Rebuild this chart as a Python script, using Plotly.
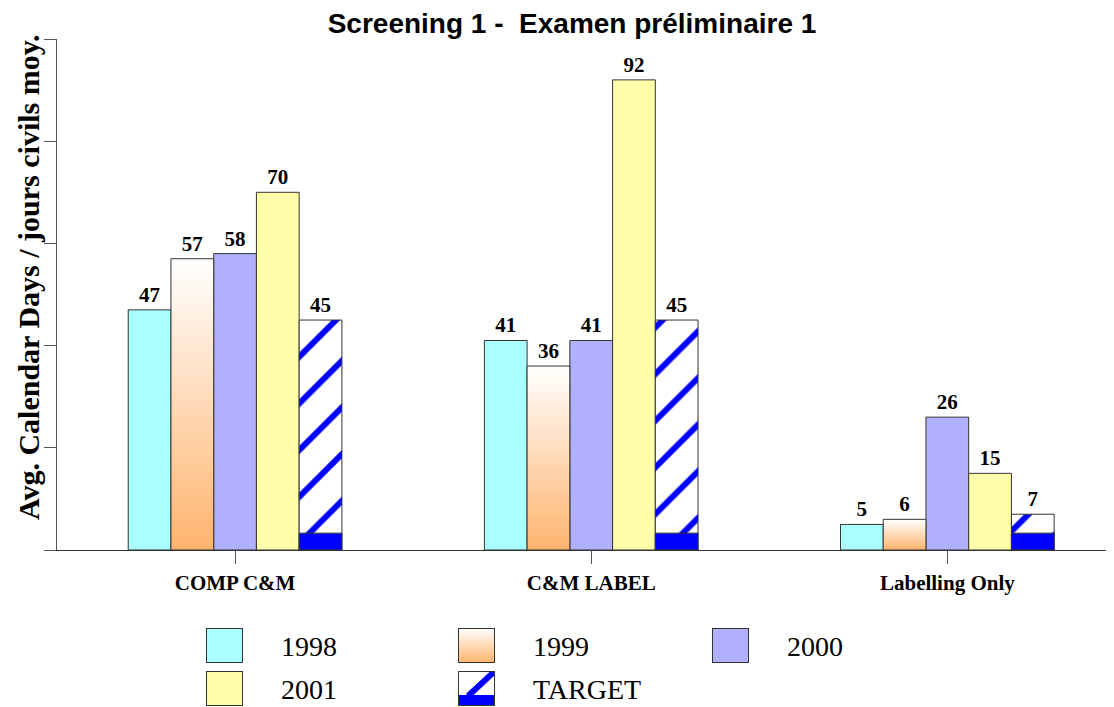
import base64

import plotly.graph_objects as go

# Data
categories = ["COMP C&M", "C&M LABEL", "Labelling Only"]
series = ["1998", "1999", "2000", "2001", "TARGET"]
v1998 = [47, 41, 5]
v1999 = [57, 36, 6]
v2000 = [58, 41, 26]
v2001 = [70, 92, 15]
target = [45, 45, 7]
y_ticks = [0, 20, 40, 60, 80, 100]

values = [v1998, v1999, v2000, v2001, target]
colors = ["#AAFFFF", None, "#B0B0FF", "#FFFFAA", None]
orange = "#FFB46E"
blue = "#0000FF"
edge = "#333333"

group_w = 0.6
bar_w = group_w / len(series)
band_h = 3.3  # solid blue strip at the foot of the target bars
xs = list(range(len(categories)))

serif = "Liberation Serif, Times New Roman, serif"
label_font = dict(family=serif, size=21, color="black", weight="bold")

fig = go.Figure()

for k, name in enumerate(series):
    off = -group_w / 2 + k * bar_w
    vals = values[k]
    if name == "TARGET":
        fig.add_trace(go.Bar(
            x=xs, y=vals, width=bar_w, offset=off, name=name,
            marker=dict(color="white", line=dict(color=edge, width=1),
                        pattern=dict(shape="/", fgcolor=blue, bgcolor="white",
                                     size=33, solidity=0.18, fillmode="replace")),
            text=vals, textposition="outside", textfont=label_font, cliponaxis=False))
        fig.add_trace(go.Bar(
            x=xs, y=[band_h] * len(xs), width=bar_w, offset=off, showlegend=False,
            marker=dict(color=blue, line=dict(color=edge, width=1)), hoverinfo="skip"))
    elif name == "1999":
        # transparent bar for the labels, gradient polygons drawn over it
        fig.add_trace(go.Bar(
            x=xs, y=vals, width=bar_w, offset=off, name=name,
            marker=dict(color="rgba(0,0,0,0)", line=dict(width=0)),
            text=vals, textposition="outside", textfont=label_font, cliponaxis=False))
        for i, v in zip(xs, vals):
            x0, x1 = i + off, i + off + bar_w
            fig.add_trace(go.Scatter(
                x=[x0, x1, x1, x0, x0], y=[0, 0, v, v, 0], mode="lines",
                fill="toself", line=dict(color=edge, width=1),
                fillgradient=dict(type="vertical", colorscale=[[0, orange], [1, "#FFFFFF"]]),
                showlegend=False, hoverinfo="skip"))
    else:
        fig.add_trace(go.Bar(
            x=xs, y=vals, width=bar_w, offset=off, name=name,
            marker=dict(color=colors[k], line=dict(color=edge, width=1)),
            text=vals, textposition="outside", textfont=label_font, cliponaxis=False))

# Legend built by hand (big swatches in three columns)
def svg_uri(body):
    svg = f"<svg xmlns='http://www.w3.org/2000/svg' width='37' height='35' viewBox='0 0 37 35'>{body}</svg>"
    return "data:image/svg+xml;base64," + base64.b64encode(svg.encode()).decode()

border = f"<rect x='0.5' y='0.5' width='36' height='34' fill='none' stroke='{edge}' stroke-width='1'/>"
swatches = {
    "1998": f"<rect width='37' height='35' fill='#AAFFFF'/>" + border,
    "1999": ("<defs><linearGradient id='g' x1='0' y1='0' x2='0' y2='1'>"
             f"<stop offset='0' stop-color='#FFFFFF'/><stop offset='1' stop-color='{orange}'/>"
             "</linearGradient></defs><rect width='37' height='35' fill='url(#g)'/>" + border),
    "2000": "<rect width='37' height='35' fill='#B0B0FF'/>" + border,
    "2001": "<rect width='37' height='35' fill='#FFFFAA'/>" + border,
    "TARGET": ("<rect width='37' height='35' fill='white'/>"
               f"<line x1='10' y1='25' x2='37' y2='0' stroke='{blue}' stroke-width='6'/>"
               f"<rect y='24' width='37' height='11' fill='{blue}'/>" + border),
}
leg_pos = {"1998": (206, 628), "1999": (458, 628), "2000": (712, 628),
           "2001": (206, 671), "TARGET": (458, 671)}

# page body adds an 8px offset, so the figure is drawn 8px smaller
OFF = 8
FW, FH = 1114 - OFF, 707 - OFF
L, T = 57 - OFF, 39 - OFF
W, H = FW - L, FH - T


def px(x):
    return (x - 57) / W


def py(y):
    return (707 - y) / H


images = []
annotations = []
for name, (lx, ly) in leg_pos.items():
    images.append(dict(source=svg_uri(swatches[name]), xref="paper", yref="paper",
                       x=px(lx), y=py(ly), sizex=37 / W, sizey=35 / H,
                       xanchor="left", yanchor="top", sizing="stretch", layer="above"))
    annotations.append(dict(text=name, xref="paper", yref="paper", x=px(lx + 73), y=py(ly + 18),
                            xanchor="left", yanchor="middle", showarrow=False,
                            font=dict(family=serif, size=28, color="black")))

annotations.append(dict(text="<b>Avg. Calendar Days / jours civils moy.</b>", textangle=-90,
                        xref="paper", yref="paper", x=px(28), y=py(277),
                        xanchor="center", yanchor="middle", showarrow=False,
                        font=dict(family=serif, size=30, color="black")))

fig.update_layout(
    width=FW, height=FH,
    margin=dict(l=L, r=0, t=T, b=0),
    paper_bgcolor="white", plot_bgcolor="white",
    barmode="overlay",
    showlegend=False,
    title=dict(text="<b>Screening 1 -  Examen préliminaire 1</b>", x=(572 - OFF) / FW, xanchor="center",
               y=1 - (23 - OFF) / FH, yanchor="middle",
               font=dict(family="Liberation Sans, Arial, sans-serif", size=28, color="black")),
    xaxis=dict(range=[-0.5, 2.468], tickvals=xs, ticktext=[f"<b>{c}</b>" for c in categories],
               ticks="outside", ticklen=13, tickcolor="#555", showline=True, linecolor="#333",
               showgrid=False, zeroline=False, ticklabelstandoff=1,
               tickfont=dict(family=serif, size=21, color="black")),
    yaxis=dict(range=[0, 100], domain=[py(550), 1], tickvals=y_ticks, showticklabels=False,
               ticks="outside", ticklen=12, tickcolor="#555", showline=True, linecolor="#555",
               showgrid=False, zeroline=False),
    images=images,
    annotations=annotations,
)

fig.write_html("out.html")
